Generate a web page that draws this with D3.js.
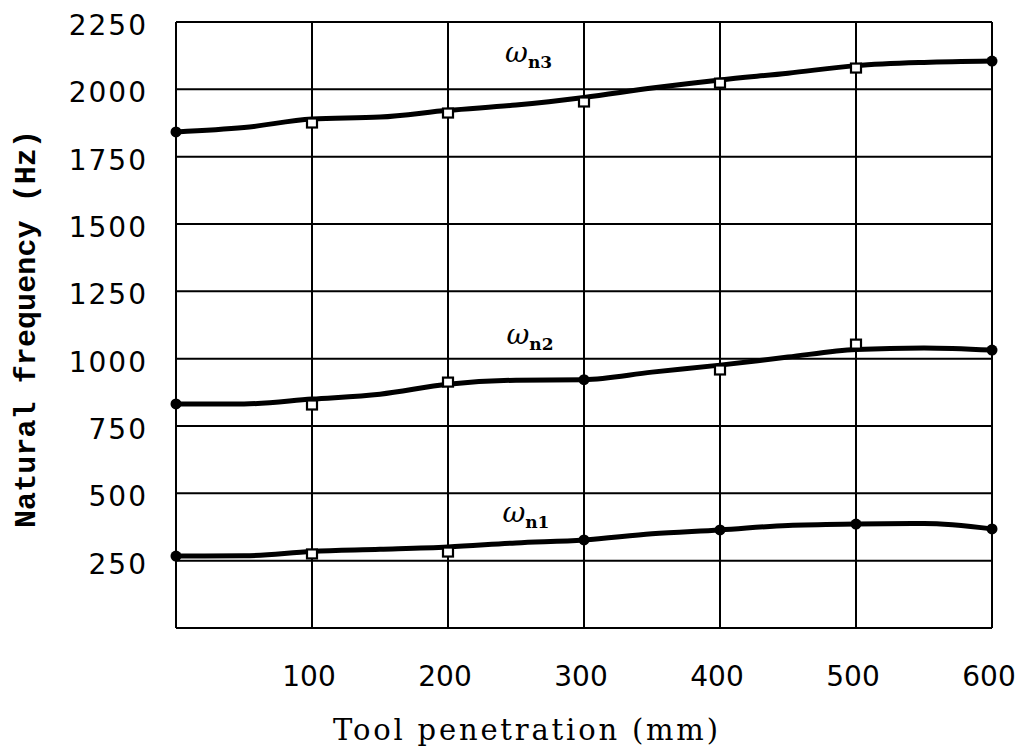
<!DOCTYPE html>
<html>
<head>
<meta charset="utf-8">
<script src="https://cdn.jsdelivr.net/npm/d3@7"></script>
<style>
  body { margin: 0; background: #fff; }
  svg { display: block; }
  .grid line { stroke: #000; stroke-width: 2; }
  .curve { fill: none; stroke: #000; stroke-width: 5; stroke-linejoin: round; }
  .tick-label { font-family: "DejaVu Sans", sans-serif; font-size: 28px; fill: #000; }
</style>
</head>
<body>
<div id="chart"></div>
<script>
// tool penetration (mm) at which each curve was read
var penetration = [0, 50, 100, 150, 200, 250, 300, 350, 400, 450, 500, 550, 600];

// calculated natural frequency curves (Hz)
var wn1Curve = [267, 268, 284, 292, 301, 316, 327, 350, 364, 381, 386, 388, 368];
var wn2Curve = [832, 832, 850, 868, 905, 920, 922, 950, 976, 1006, 1034, 1040, 1032];
var wn3Curve = [1842, 1858, 1890, 1897, 1922, 1942, 1970, 2005, 2035, 2060, 2088, 2100, 2105];

// measured points: filled dots and open squares, [mm, Hz]
var filledDots = [
    [0, 267], [300, 327], [400, 364], [500, 386], [600, 368],
    [0, 832], [300, 922], [600, 1032],
    [0, 1842], [600, 2105]
];
var openSquares = [
    [100, 275], [200, 282],
    [100, 828], [200, 913], [400, 958], [500, 1054],
    [100, 1875], [200, 1912], [300, 1953], [400, 2023], [500, 2079]
];

var xTicks = [100, 200, 300, 400, 500, 600];
var xGrid = [0, 100, 200, 300, 400, 500, 600];
var yTicks = [250, 500, 750, 1000, 1250, 1500, 1750, 2000, 2250];
var yGrid = [0, 250, 500, 750, 1000, 1250, 1500, 1750, 2000, 2250];

var curveLabels = [
    { sub: "n1", x: 240, y: 394 },
    { sub: "n2", x: 243, y: 1054 },
    { sub: "n3", x: 242, y: 2101 }
];

var width = 1015, height = 754;
var margin = { left: 176, right: 23, top: 22, bottom: 126 };

var svg = d3.select("#chart")
    .append("svg")
    .attr("width", width)
    .attr("height", height);

var x = d3.scaleLinear().domain([0, 600]).range([margin.left, width - margin.right]);
var y = d3.scaleLinear().domain([0, 2250]).range([height - margin.bottom, margin.top]);

var grid = svg.append("g").attr("class", "grid");

grid.selectAll("line.h")
    .data(yGrid).enter()
    .append("line")
    .attr("class", "h")
    .attr("x1", x(0))
    .attr("x2", x(600))
    .attr("y1", function(d) { return y(d); })
    .attr("y2", function(d) { return y(d); });

grid.selectAll("line.v")
    .data(xGrid).enter()
    .append("line")
    .attr("class", "v")
    .attr("y1", y(0))
    .attr("y2", y(2250))
    .attr("x1", function(d) { return x(d); })
    .attr("x2", function(d) { return x(d); });

// tick labels
svg.selectAll("text.ytick")
    .data(yTicks).enter()
    .append("text")
    .attr("class", "tick-label ytick")
    .attr("x", x(0) - 28)
    .attr("y", function(d) { return y(d) + 13; })
    .attr("text-anchor", "end")
    .style("letter-spacing", "2px")
    .text(function(d) { return d; });

svg.selectAll("text.xtick")
    .data(xTicks).enter()
    .append("text")
    .attr("class", "tick-label xtick")
    .attr("x", function(d) { return x(d) - 3; })
    .attr("y", 686)
    .attr("text-anchor", "middle")
    .text(function(d) { return d; });

// axis titles
svg.append("text")
    .attr("transform", "translate(35," + 329 + ") rotate(-90)")
    .attr("text-anchor", "middle")
    .style("font-family", "'Liberation Mono', 'DejaVu Sans Mono', monospace")
    .style("font-size", "30px")
    .style("font-weight", "bold")
    .attr("textLength", 398)
    .text("Natural frequency (Hz)");

svg.append("text")
    .attr("x", 333)
    .attr("y", 740)
    .style("font-family", "'DejaVu Serif', serif")
    .style("font-size", "29px")
    .attr("textLength", 385)
    .text("Tool penetration (mm)");

// curves
var line = d3.line()
    .x(function(d) { return x(d[0]); })
    .y(function(d) { return y(d[1]); })
    .curve(d3.curveMonotoneX);

[wn1Curve, wn2Curve, wn3Curve].forEach(function(values) {
    svg.append("path")
        .attr("class", "curve")
        .attr("d", line(d3.zip(penetration, values)));
});

// markers
svg.selectAll("circle.dot")
    .data(filledDots).enter()
    .append("circle")
    .attr("class", "dot")
    .attr("cx", function(d) { return x(d[0]); })
    .attr("cy", function(d) { return y(d[1]); })
    .attr("r", 5.5)
    .attr("fill", "#000");

svg.selectAll("rect.sq")
    .data(openSquares).enter()
    .append("rect")
    .attr("class", "sq")
    .attr("x", function(d) { return x(d[0]) - 5; })
    .attr("y", function(d) { return y(d[1]) - 4.5; })
    .attr("width", 10)
    .attr("height", 9)
    .attr("fill", "#fff")
    .attr("stroke", "#000")
    .attr("stroke-width", 2.2);

// omega labels
var labels = svg.selectAll("text.omega")
    .data(curveLabels).enter()
    .append("text")
    .attr("class", "omega")
    .attr("x", function(d) { return x(d.x); })
    .attr("y", function(d) { return y(d.y); })
    .style("font-family", "'DejaVu Serif', serif");

labels.append("tspan")
    .style("font-size", "28px")
    .style("font-style", "italic")
    .text("\u03c9");

labels.append("tspan")
    .attr("dy", 6)
    .style("font-size", "17px")
    .style("font-weight", "bold")
    .text(function(d) { return d.sub; });
</script>
</body>
</html>
